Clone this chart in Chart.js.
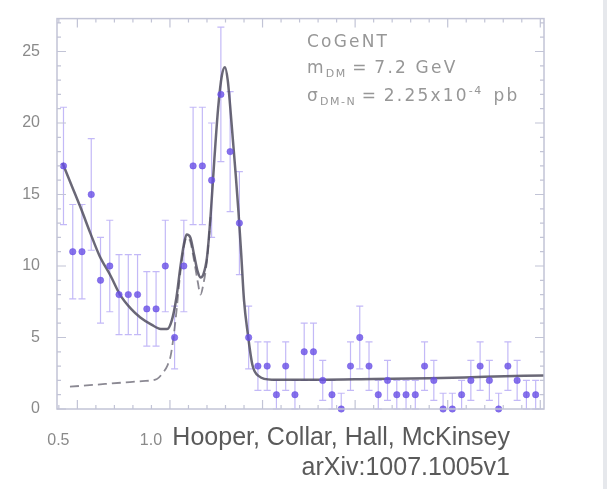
<!DOCTYPE html>
<html>
<head>
<meta charset="utf-8">
<script src="https://cdn.jsdelivr.net/npm/chart.js@4.4.0/dist/chart.umd.min.js"></script>
<style>
  html, body { margin: 0; padding: 0; background: #fff; }
  #wrap { position: relative; width: 607px; height: 489px; overflow: hidden; }
  #myChart { position: absolute; left: 0; top: 0; }
  .note { position: absolute; font-family: "DejaVu Sans", sans-serif; color: #979797; font-size: 17px; letter-spacing: 2.2px; white-space: nowrap; }
  .note sub, .note sup { font-size: 11px; letter-spacing: 1.5px; }
  .cite { position: absolute; font-family: "Liberation Sans", Arial, sans-serif; color: #5a5a5a; font-size: 25px; white-space: nowrap; text-align: right; }
  #edge { position: absolute; left: 603px; top: 0; width: 4px; height: 489px; background: #e6e8ec; }
</style>
</head>
<body>
<div id="wrap">
  <canvas id="myChart" width="607" height="489"></canvas>
  <div class="note" style="left:307px; top:31px;">CoGeNT</div>
  <div class="note" style="left:307px; top:57px;">m<sub>DM</sub>&thinsp;=&thinsp;7.2 GeV</div>
  <div class="note" style="left:307px; top:84px;">&sigma;<sub>DM-N</sub>&thinsp;=&thinsp;2.25x10<sup>-4</sup>&ensp;pb</div>
  <div class="cite" style="right:97px; top:422px;">Hooper, Collar, Hall, McKinsey</div>
  <div class="cite" style="right:97px; top:452px;">arXiv:1007.1005v1</div>
  <div id="edge"></div>
</div>
<script>
// energy bins (keVee) and counts per bin
var energies = [0.425, 0.475, 0.525, 0.575, 0.625, 0.675, 0.725, 0.775, 0.825, 0.875,
                0.925, 0.975, 1.025, 1.075, 1.125, 1.175, 1.225, 1.275, 1.325, 1.375,
                1.425, 1.475, 1.525, 1.575, 1.625, 1.675, 1.725, 1.775, 1.825, 1.875,
                1.925, 1.975, 2.025, 2.075, 2.125, 2.175, 2.225, 2.275, 2.325, 2.375,
                2.425, 2.475, 2.525, 2.575, 2.625, 2.675, 2.725, 2.775, 2.825, 2.875,
                2.925, 2.975];
var counts = [17, 11, 11, 15, 9, 10, 8, 8, 8, 7,
              7, 10, 5, 10, 17, 17, 16, 22, 18, 13,
              5, 3, 3, 1, 3, 1, 4, 4, 2, 1,
              0, 3, 5, 3, 1, 2, 1, 1, 1, 3,
              2, 0, 0, 1, 2, 3, 2, 0, 3, 2,
              1, 1];
var errors = [4.1, 3.3, 3.3, 3.9, 3.0, 3.2, 2.8, 2.8, 2.8, 2.6,
              2.6, 3.2, 2.2, 3.2, 4.1, 4.1, 4.0, 4.7, 4.2, 3.6,
              2.2, 1.7, 1.7, 1.0, 1.7, 1.0, 2.0, 2.0, 1.4, 1.0,
              1.1, 1.7, 2.2, 1.7, 1.0, 1.4, 1.0, 1.0, 1.0, 1.7,
              1.4, 1.1, 1.1, 1.0, 1.4, 1.7, 1.4, 1.1, 1.7, 1.4,
              1.0, 1.0];

// best fit (signal + background), solid
var fitE = [0.42, 0.47, 0.52, 0.57, 0.62, 0.68, 0.73, 0.79, 0.84, 0.90, 0.95, 0.985, 1.01,
            1.035, 1.055, 1.075, 1.09, 1.11, 1.13, 1.15, 1.165, 1.18, 1.20, 1.22, 1.24,
            1.26, 1.28, 1.297, 1.312, 1.325, 1.34, 1.355, 1.37, 1.385, 1.40, 1.42, 1.445,
            1.48, 1.55, 1.8, 2.1, 2.4, 2.7, 3.02];
var fitY = [17.2, 15.6, 14.0, 12.3, 10.7, 9.3, 8.0, 7.0, 6.4, 5.9, 5.6, 5.6, 6.2,
            7.8, 9.8, 11.5, 12.2, 12.0, 10.8, 9.6, 9.2, 9.4, 10.6, 13.6, 17.5,
            21.0, 23.3, 23.9, 23.0, 21.2, 18.8, 16.4, 13.8, 10.8, 7.6, 5.3, 3.1,
            2.3, 2.05, 2.05, 2.1, 2.15, 2.25, 2.35];

// background only, dashed
var bgE = [0.46, 0.55, 0.65, 0.75, 0.85, 0.93, 0.96, 0.985, 1.005, 1.03, 1.055, 1.075,
           1.09, 1.11, 1.13, 1.15, 1.165, 1.18, 1.20, 1.22];
var bgY = [1.56, 1.65, 1.75, 1.85, 1.95, 2.1, 2.5, 3.0, 3.8, 6.2, 9.4, 11.3,
           12.0, 11.7, 10.4, 8.9, 8.0, 8.7, 10.4, 13.5];

var yLabelTicks = [0, 5, 10, 15, 20, 25];
var xLabelTicks = [0.5, 1.0];

function pts(xs, ys) {
  return xs.map(function (x, i) { return { x: x, y: ys[i] }; });
}

var frameColor = '#c2c4d6';

var errorBars = {
  id: 'errorBars',
  beforeDatasetsDraw: function (chart) {
    var c = chart.ctx, xs = chart.scales.x, ys = chart.scales.y, a = chart.chartArea;
    c.save();
    c.beginPath();
    c.rect(a.left, a.top - 2, a.right - a.left, a.bottom - a.top + 4);
    c.clip();
    c.strokeStyle = 'rgba(135, 115, 240, 0.5)';
    c.lineWidth = 1.2;
    energies.forEach(function (e, i) {
      var px = xs.getPixelForValue(e);
      var top = ys.getPixelForValue(counts[i] + errors[i]);
      var bot = ys.getPixelForValue(Math.max(counts[i] - errors[i], 0));
      c.beginPath();
      c.moveTo(px, top); c.lineTo(px, bot);
      c.moveTo(px - 3.5, top); c.lineTo(px + 3.5, top);
      c.moveTo(px - 3.5, bot); c.lineTo(px + 3.5, bot);
      c.stroke();
    });
    c.restore();
  }
};

var frameTicks = {
  id: 'frameTicks',
  afterDraw: function (chart) {
    var c = chart.ctx, xs = chart.scales.x, ys = chart.scales.y, a = chart.chartArea;
    c.save();
    c.strokeStyle = frameColor;
    c.lineWidth = 1.5;
    c.strokeRect(a.left, a.top, a.right - a.left, a.bottom - a.top);
    c.lineWidth = 1.2;
    c.beginPath();
    // y ticks, both sides, pointing inward
    for (var v = 0; v <= 27; v++) {
      var py = ys.getPixelForValue(v);
      var len = v % 5 === 0 ? 9 : 4;
      c.moveTo(a.left, py); c.lineTo(a.left + len, py);
      c.moveTo(a.right, py); c.lineTo(a.right - len, py);
    }
    // x ticks, top and bottom
    for (var k = 4; k <= 30; k++) {
      var px = xs.getPixelForValue(k / 10);
      var l2 = k % 5 === 0 ? 9 : 4;
      c.moveTo(px, a.bottom); c.lineTo(px, a.bottom - l2);
      c.moveTo(px, a.top); c.lineTo(px, a.top + l2);
    }
    c.stroke();
    c.restore();
  }
};

var ctx = document.getElementById('myChart').getContext('2d');

var chart = new Chart(ctx, {
  type: 'scatter',
  data: {
    datasets: [{
      label: 'CoGeNT data',
      data: pts(energies, counts),
      showLine: false,
      pointStyle: 'circle',
      pointRadius: 3.2,
      pointBackgroundColor: 'rgba(105, 80, 230, 0.8)',
      pointBorderColor: 'rgba(105, 80, 230, 0.5)',
      pointBorderWidth: 1,
      clip: false
    }, {
      label: 'fit',
      data: pts(fitE, fitY),
      showLine: true,
      borderColor: 'rgba(80, 78, 95, 0.85)',
      borderWidth: 2.5,
      pointRadius: 0,
      cubicInterpolationMode: 'monotone'
    }, {
      label: 'background',
      data: pts(bgE, bgY),
      showLine: true,
      borderColor: 'rgba(110, 108, 120, 0.8)',
      borderWidth: 1.8,
      borderDash: [9, 5],
      pointRadius: 0,
      cubicInterpolationMode: 'monotone'
    }]
  },
  options: {
    responsive: false,
    animation: false,
    layout: { padding: { left: 0, right: 63, top: 7, bottom: 0 } },
    plugins: {
      legend: { display: false },
      tooltip: { enabled: false }
    },
    scales: {
      x: {
        type: 'linear',
        min: 0.39,
        max: 3.02,
        grid: { display: false },
        border: { display: false },
        afterBuildTicks: function (scale) {
          scale.ticks = xLabelTicks.map(function (v) { return { value: v }; });
        },
        afterFit: function (scale) { scale.height = 80; },
        ticks: {
          padding: 14,
          labelOffset: -19,
          color: '#8a8a8a',
          font: { family: 'Liberation Sans', size: 16 },
          callback: function (v) { return v.toFixed(1); }
        }
      },
      y: {
        min: 0,
        max: 27.3,
        grid: { display: false },
        border: { display: false },
        afterBuildTicks: function (scale) {
          scale.ticks = yLabelTicks.map(function (v) { return { value: v }; });
        },
        afterFit: function (scale) { scale.width = 57; },
        ticks: {
          padding: 9,
          color: '#8a8a8a',
          font: { family: 'Liberation Sans', size: 16 }
        }
      }
    }
  },
  plugins: [errorBars, frameTicks]
});
</script>
</body>
</html>
